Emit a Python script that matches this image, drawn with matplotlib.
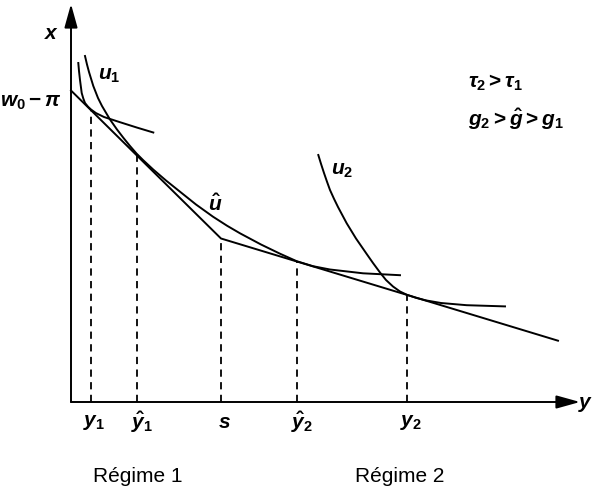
import matplotlib
matplotlib.use("Agg")
import matplotlib.pyplot as plt

plt.rcParams['mathtext.fontset'] = 'custom'
plt.rcParams['mathtext.it'] = 'Liberation Sans:italic:bold'
plt.rcParams['mathtext.rm'] = 'Liberation Sans:bold'
plt.rcParams['mathtext.bf'] = 'Liberation Sans:bold'

# budget line: intercept w0 - pi, kink at s, end of regime 2 segment
budget_x = [0, 150, 487]
budget_y = [311.5, 163.5, 61.3]

# indifference curve tangent at y1
u1_x = [7.3, 8, 9, 10.7, 12.3, 14, 17, 20, 25, 33, 49, 65.7, 82.3]
u1_y = [339, 331, 322, 309, 303.5, 299, 295.3, 292.5, 288.9, 285, 279.8, 274.5, 269.5]

# u-hat, tangent at y1-hat and y2-hat
uh_x = [14, 16, 18, 22.3, 27, 31, 39, 46, 52.3, 59, 65.5, 72, 82.3, 95, 109,
        125, 142, 156, 169, 190, 209, 225.7, 242, 259, 292, 329]
uh_y = [346, 337.5, 330, 316, 304, 296, 282.5, 272.5, 264.3, 256, 248.5, 242,
        232.4, 221.5, 210.3, 197.5, 185.3, 176.3, 168.7, 157.5, 148.3, 140.8,
        135.8, 132.5, 128.7, 126.8]

# indifference curve tangent at y2
u2_x = [247.3, 250, 253, 256, 259, 263, 267, 275.7, 285, 295.7, 302, 309, 315,
        322, 329, 335.7, 345, 355, 370, 395.7, 434]
u2_y = [247, 238.2, 229, 220.3, 212, 203.2, 195, 178.7, 163.5, 148, 139, 129.5,
        122, 115.5, 110.5, 107.3, 104.2, 101.6, 99, 96.8, 95.6]

# dashed drop lines (position on x axis, height of tangency / kink)
drop_x = [20, 65.5, 150, 225.7, 335.7]
drop_y = [292.5, 248.5, 163.5, 140.8, 107.3]
tick_labels = [r'$y_1$', r'$\hat{y}_1$', r'$s$', r'$\hat{y}_2$', r'$y_2$']
tick_pos = [23, 71, 153, 231, 340]

fig = plt.figure(figsize=(5.95, 4.93), dpi=100)
ax = fig.add_axes([0, 0, 1, 1])
ax.set_xlim(-71, 524)
ax.set_ylim(-91, 402)
ax.axis('off')

lw = 1.4
# axes with arrows
ax.annotate('', xy=(0, 398), xytext=(0, 0),
            arrowprops=dict(arrowstyle='-|>,head_length=0.9,head_width=0.25',
                            lw=lw, color='black', shrinkA=0, shrinkB=0,
                            mutation_scale=16))
ax.annotate('', xy=(509, 0), xytext=(0, 0),
            arrowprops=dict(arrowstyle='-|>,head_length=0.9,head_width=0.25',
                            lw=lw, color='black', shrinkA=0, shrinkB=0,
                            mutation_scale=16))

ax.plot(budget_x, budget_y, color='black', lw=lw)
ax.plot(u1_x, u1_y, color='black', lw=lw)
ax.plot(uh_x, uh_y, color='black', lw=lw)
ax.plot(u2_x, u2_y, color='black', lw=lw)

for dx, dy in zip(drop_x, drop_y):
    ax.plot([dx, dx], [0, dy], color='black', lw=1.3, ls=(0, (4, 3)))

for tx, lab in zip(tick_pos, tick_labels):
    ax.text(tx, -20, lab, fontsize=15, ha='center', va='center')

ax.text(-19, 369, r'$x$', fontsize=15, ha='center', va='center')
ax.text(522, -2, r'$y$', fontsize=15, ha='right', va='center')
ax.text(-9, 300, r'$w_0 - \pi$', fontsize=15, ha='right', va='center')
ax.text(38, 327, r'$u_1$', fontsize=15, ha='center', va='center')
ax.text(144, 198, r'$\hat{u}$', fontsize=15, ha='center', va='center')
ax.text(271, 232, r'$u_2$', fontsize=15, ha='center', va='center')
ax.text(397, 319, r'$\tau_2 > \tau_1$', fontsize=15, ha='left', va='center')
ax.text(397, 283, r'$g_2 > \hat{g} > g_1$', fontsize=15, ha='left', va='center')

ax.text(67, -74, 'Régime 1', fontsize=15, family='Liberation Sans',
        ha='center', va='center')
ax.text(329, -74, 'Régime 2', fontsize=15, family='Liberation Sans',
        ha='center', va='center')

fig.savefig('out.png', dpi=100)
